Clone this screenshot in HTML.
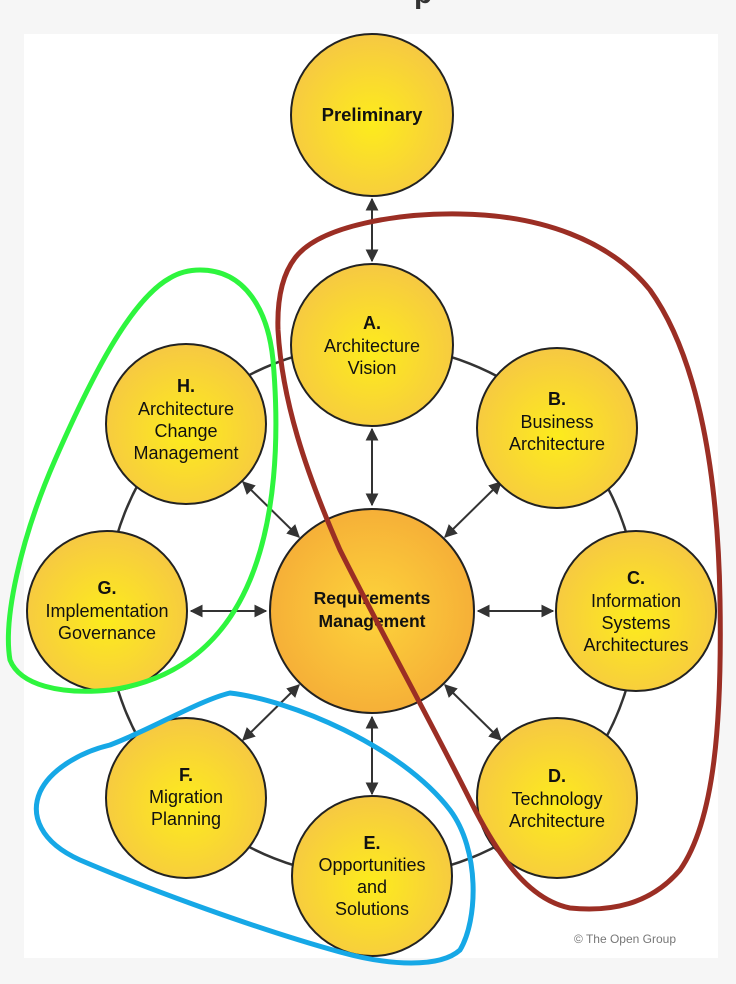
<!DOCTYPE html>
<html><head><meta charset="utf-8"><style>
html,body{margin:0;padding:0;background:#f6f6f6;}
svg{display:block;}
text{font-family:"Liberation Sans",Arial,sans-serif;fill:#111;}
</style></head><body>
<svg width="736" height="984" viewBox="0 0 736 984" xmlns="http://www.w3.org/2000/svg">
<defs>
<radialGradient id="y" cx="50%" cy="55%" r="55%">
<stop offset="0" stop-color="#fdec1c"/><stop offset="1" stop-color="#f6c843"/>
</radialGradient>
<radialGradient id="o" cx="50%" cy="50%" r="55%">
<stop offset="0" stop-color="#fdd43a"/><stop offset="1" stop-color="#f5ac38"/>
</radialGradient>
<marker id="a" viewBox="0 0 10 10" refX="9" refY="5" markerWidth="6.5" markerHeight="6.5" orient="auto-start-reverse">
<path d="M0,0 L10,5 L0,10 z" fill="#333"/></marker>
</defs>
<text x="414" y="3" font-family="Liberation Serif" font-size="30" font-weight="bold" style="fill:#333">p</text>
<rect x="24" y="34" width="694" height="924" fill="#fff"/>
<circle cx="372" cy="611" r="266" fill="none" stroke="#333" stroke-width="2.5"/>
<g stroke="#333" stroke-width="2" marker-start="url(#a)" marker-end="url(#a)">
<line x1="372" y1="199" x2="372" y2="261"/>
<line x1="372" y1="429" x2="372" y2="505"/>
<line x1="372" y1="717" x2="372" y2="794"/>
<line x1="191" y1="611" x2="266" y2="611"/>
<line x1="478" y1="611" x2="553" y2="611"/>
<line x1="445" y1="537" x2="501" y2="482"/>
<line x1="299" y1="537" x2="243" y2="482"/>
<line x1="445" y1="685" x2="501" y2="740"/>
<line x1="299" y1="685" x2="243" y2="740"/>
</g>
<g stroke="#222" stroke-width="2" fill="url(#y)">
<circle cx="372" cy="115" r="81"/>
<circle cx="372" cy="345" r="81"/>
<circle cx="557" cy="428" r="80"/>
<circle cx="636" cy="611" r="80"/>
<circle cx="557" cy="798" r="80"/>
<circle cx="372" cy="876" r="80"/>
<circle cx="186" cy="798" r="80"/>
<circle cx="107" cy="611" r="80"/>
<circle cx="186" cy="424" r="80"/>
</g>
<circle cx="372" cy="611" r="102" fill="url(#o)" stroke="#222" stroke-width="2"/>
<g text-anchor="middle" font-size="18">
<text x="372" y="121" font-weight="bold" font-size="18.5">Preliminary</text>
<text x="372" y="329" font-weight="bold">A.</text><text x="372" y="352">Architecture</text><text x="372" y="374">Vision</text>
<text x="557" y="405" font-weight="bold">B.</text><text x="557" y="428">Business</text><text x="557" y="450">Architecture</text>
<text x="636" y="584" font-weight="bold">C.</text><text x="636" y="607">Information</text><text x="636" y="629">Systems</text><text x="636" y="651">Architectures</text>
<text x="557" y="782" font-weight="bold">D.</text><text x="557" y="805">Technology</text><text x="557" y="827">Architecture</text>
<text x="372" y="849" font-weight="bold">E.</text><text x="372" y="871">Opportunities</text><text x="372" y="893">and</text><text x="372" y="915">Solutions</text>
<text x="186" y="781" font-weight="bold">F.</text><text x="186" y="803">Migration</text><text x="186" y="825">Planning</text>
<text x="107" y="594" font-weight="bold">G.</text><text x="107" y="617">Implementation</text><text x="107" y="639">Governance</text>
<text x="186" y="392" font-weight="bold">H.</text><text x="186" y="415">Architecture</text><text x="186" y="437">Change</text><text x="186" y="459">Management</text>
<text x="372" y="604" font-weight="bold" font-size="17.5">Requirements</text><text x="372" y="627" font-weight="bold" font-size="17.5">Management</text>
</g>
<text x="625" y="943" text-anchor="middle" font-size="12" style="fill:#777">© The Open Group</text>
<g fill="none" stroke-width="5" stroke-linecap="round">
<path d="M295,258 C320,225 400,213 460,214 C540,215 610,240 650,290 C700,360 718,480 720,600 C722,720 715,820 680,870 C650,905 610,912 570,908 C530,900 500,860 470,800 C430,720 380,630 340,550 C305,470 282,400 278,330 C277,300 282,275 295,258 Z" stroke="#9b2e24"/>
<path d="M200,270 C245,270 268,310 273,360 C280,440 275,520 250,580 C225,640 180,680 110,690 C60,695 20,685 10,660 C3,620 20,540 55,460 C90,380 130,300 170,278 C180,272 190,270 200,270 Z" stroke="#2ef53e"/>
<path d="M230,693 C290,700 400,745 450,810 C480,850 478,920 460,950 C440,968 390,966 340,952 C260,930 150,890 80,860 C40,842 30,815 40,792 C50,770 80,752 110,745 C150,730 200,700 230,693 Z" stroke="#16a8e6"/>
</g>
</svg>
</body></html>
